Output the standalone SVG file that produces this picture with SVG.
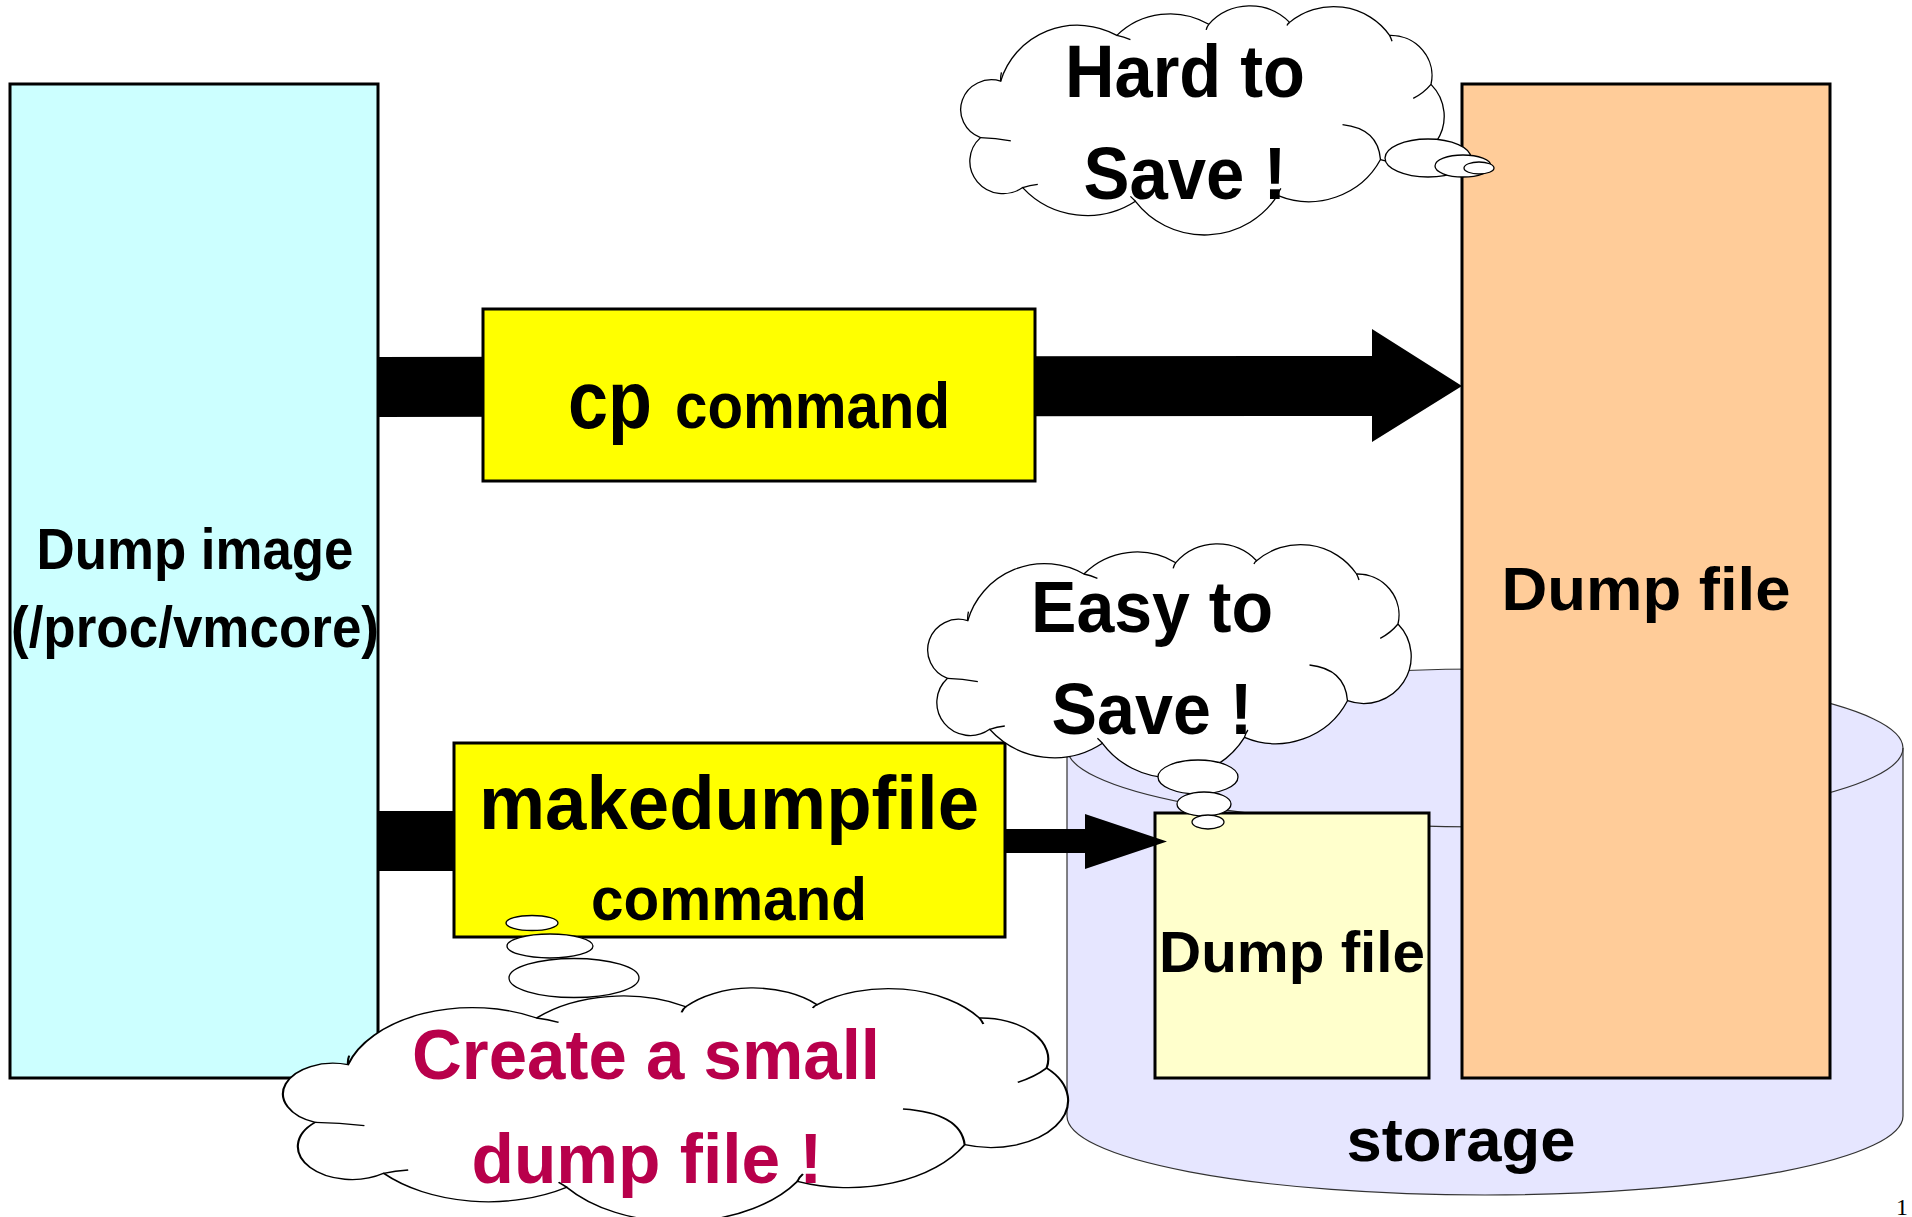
<svg xmlns="http://www.w3.org/2000/svg" width="1912" height="1217" viewBox="0 0 1912 1217">
<style>
  .box{stroke:#000;stroke-width:3}
  .lbl{font-family:"Liberation Sans",Arial,sans-serif;font-weight:bold;fill:#000;text-anchor:middle}
  .note{fill:#b8004b}
  .cloud{fill:#fff;stroke:#000;stroke-width:1.3;vector-effect:non-scaling-stroke}
  .tail{fill:none;stroke:#000;stroke-width:1.3;vector-effect:non-scaling-stroke}
  .bubble{fill:#fff;stroke:#000;stroke-width:1.3}
  .arrow{fill:#000}
</style>
<defs>
  <!-- thought-cloud outline, local units (about 480 x 233) -->
  <path id="cloudBody" d="M 43.3 76.7 A 79 79 0 0 1 158.3 30 A 74 74 0 0 1 249.3 18.7 A 54 54 0 0 1 329.3 16.7 A 67 67 0 0 1 428.3 30 A 41 41 0 0 1 469.3 80 A 47 47 0 0 1 419.3 156.7 A 80 80 0 0 1 317.3 193.3 A 85 85 0 0 1 176.7 199.3 A 86 86 0 0 1 65 185.3 A 33 33 0 0 1 23.3 134.3 A 30.5 30.5 0 0 1 43.3 76.7 Z"/>
  <!-- inner arc ends of the cloud bumps -->
  <path id="cloudTails" d="M 44 67.7 Q 43 72 43.3 76.7 M 158.3 30 Q 165 31.5 171.7 34.3 M 249.3 18.7 Q 247.5 21 246.7 24.3 M 329.3 16.7 Q 327.5 18 326.7 20 M 428.3 30 Q 429.8 33 430.7 36 M 469.3 80 Q 462 89 451.7 94.3 M 381.7 121 Q 417 125 419.3 156.7 M 317.3 193.3 Q 318.5 189 320.7 186 M 176.7 199.3 Q 174 196.5 171.7 194.3 M 65 185.3 Q 72 183 80 182 M 23.3 134.3 Q 38 134.5 53.3 137.7"/>
</defs>

<rect width="1912" height="1217" fill="#fff"/>

<!-- storage cylinder -->
<g id="storage">
  <path d="M 1067 748 L 1067 1116 A 418 79 0 0 0 1903 1116 L 1903 748 A 418 79 0 0 0 1067 748 Z" fill="#e6e6ff" stroke="#333" stroke-width="1.2"/>
  <path d="M 1067 748 A 418 79 0 0 0 1903 748" fill="none" stroke="#333" stroke-width="1.2"/>
  <text class="lbl" x="1461" y="1161" font-size="62" textLength="229" lengthAdjust="spacingAndGlyphs">storage</text>
</g>

<!-- source: dump image -->
<g id="dump-image">
  <rect class="box" x="10" y="84" width="368" height="994" fill="#ccffff"/>
  <text class="lbl" x="195" y="569" font-size="58" textLength="317" lengthAdjust="spacingAndGlyphs">Dump image</text>
  <text class="lbl" x="195" y="647" font-size="58" textLength="368" lengthAdjust="spacingAndGlyphs">(/proc/vmcore)</text>
</g>

<!-- full-size dump file -->
<g id="dump-file-large">
  <rect class="box" x="1462" y="84" width="368" height="994" fill="#ffcc99"/>
  <text class="lbl" x="1646" y="610" font-size="62" textLength="289" lengthAdjust="spacingAndGlyphs">Dump file</text>
</g>

<!-- small dump file -->
<g id="dump-file-small">
  <rect class="box" x="1155" y="813" width="274" height="265" fill="#ffffcc"/>
  <text class="lbl" x="1292" y="972" font-size="58" textLength="266" lengthAdjust="spacingAndGlyphs">Dump file</text>
</g>

<!-- connectors -->
<g id="connectors">
  <path class="arrow" d="M 378 357 L 1372 356 L 1372 329 L 1462 386 L 1372 442 L 1372 416 L 378 417 Z"/>
  <path class="arrow" d="M 378 811 H 456 V 871 H 378 Z"/>
  <path class="arrow" d="M 1004 829 H 1085 V 814 L 1167 841.5 L 1085 869 V 853 H 1004 Z"/>
</g>

<!-- cp command -->
<g id="cp-command">
  <rect class="box" x="483" y="309" width="552" height="172" fill="#ffff00"/>
  <text class="lbl" x="568" y="428" font-size="82" style="text-anchor:start" textLength="84" lengthAdjust="spacingAndGlyphs">cp</text>
  <text class="lbl" x="675" y="428" font-size="64" style="text-anchor:start" textLength="275" lengthAdjust="spacingAndGlyphs">command</text>
</g>

<!-- makedumpfile command -->
<g id="makedumpfile-command">
  <rect class="box" x="454" y="743" width="551" height="194" fill="#ffff00"/>
  <text class="lbl" x="729" y="829" font-size="76" textLength="500" lengthAdjust="spacingAndGlyphs">makedumpfile</text>
  <text class="lbl" x="729" y="920" font-size="61" textLength="276" lengthAdjust="spacingAndGlyphs">command</text>
</g>

<!-- thought: hard to save -->
<g id="cloud-hard">
  <g transform="translate(957 6) scale(1.01 0.98)">
    <use href="#cloudBody" class="cloud"/>
    <use href="#cloudTails" class="tail"/>
  </g>
  <ellipse class="bubble" cx="1428" cy="158" rx="43" ry="19"/>
  <ellipse class="bubble" cx="1463" cy="166" rx="28" ry="11"/>
  <ellipse class="bubble" cx="1479" cy="168" rx="15" ry="6"/>
  <text class="lbl" x="1185" y="97" font-size="75" textLength="240" lengthAdjust="spacingAndGlyphs">Hard to</text>
  <text class="lbl" x="1185" y="199" font-size="75" textLength="203" lengthAdjust="spacingAndGlyphs">Save !</text>
</g>

<!-- thought: easy to save -->
<g id="cloud-easy">
  <g transform="translate(924 544) scale(1.01 1)">
    <use href="#cloudBody" class="cloud"/>
    <use href="#cloudTails" class="tail"/>
  </g>
  <ellipse class="bubble" cx="1198" cy="777" rx="40" ry="17"/>
  <ellipse class="bubble" cx="1204" cy="804" rx="27" ry="12"/>
  <ellipse class="bubble" cx="1208" cy="822" rx="16" ry="7"/>
  <text class="lbl" x="1152" y="632" font-size="72" textLength="242" lengthAdjust="spacingAndGlyphs">Easy to</text>
  <text class="lbl" x="1152" y="734" font-size="72" textLength="201" lengthAdjust="spacingAndGlyphs">Save !</text>
</g>

<!-- thought: create a small dump file -->
<g id="cloud-small">
  <g transform="translate(277 988) scale(1.64 1)">
    <use href="#cloudBody" class="cloud"/>
    <use href="#cloudTails" class="tail"/>
  </g>
  <ellipse class="bubble" cx="532" cy="923" rx="26" ry="7.5"/>
  <ellipse class="bubble" cx="550" cy="946" rx="43" ry="12"/>
  <ellipse class="bubble" cx="574" cy="978" rx="65" ry="19.5"/>
  <text class="lbl note" x="646" y="1079" font-size="70" textLength="468" lengthAdjust="spacingAndGlyphs">Create a small</text>
  <text class="lbl note" x="647" y="1183" font-size="70" textLength="351" lengthAdjust="spacingAndGlyphs">dump file !</text>
</g>

<!-- page number -->
<text x="1896" y="1215" font-family="'Liberation Serif',serif" font-size="24" fill="#000">1</text>
</svg>
